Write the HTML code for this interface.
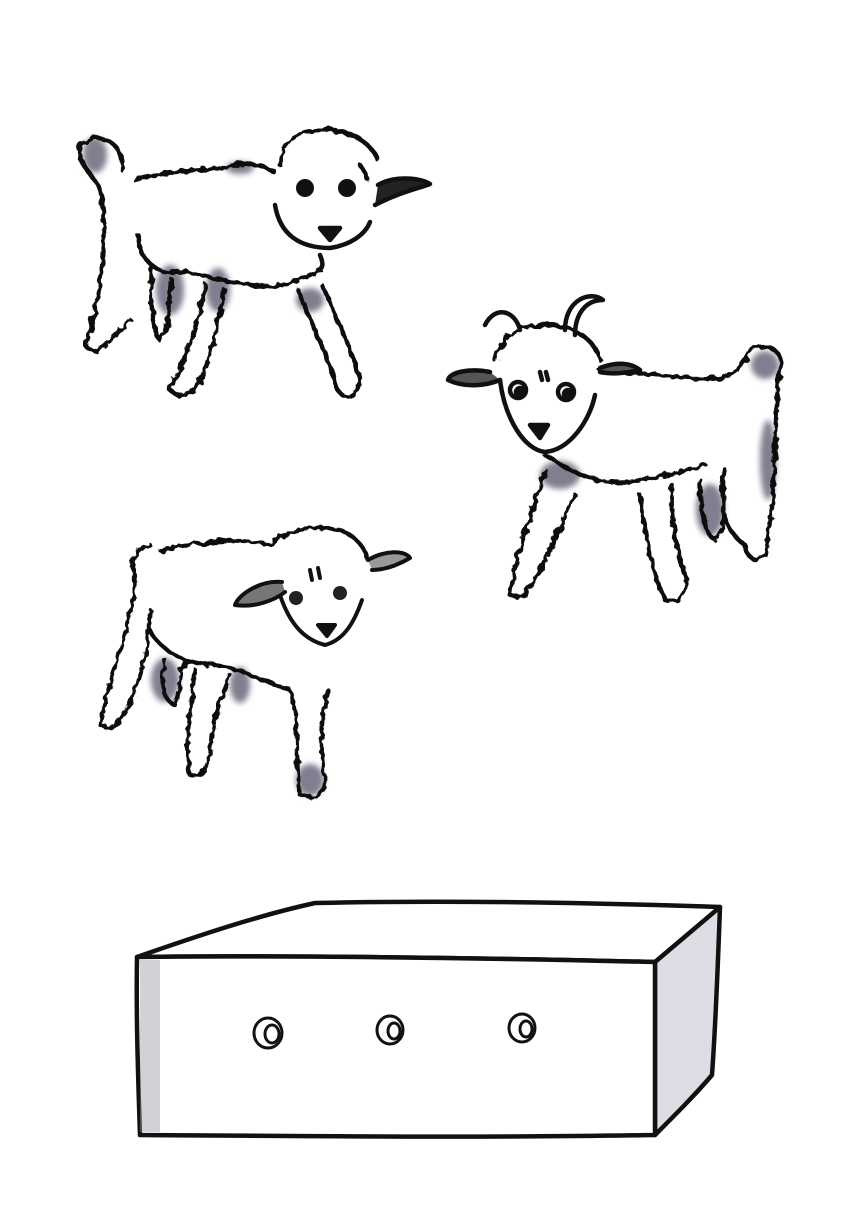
<!DOCTYPE html>
<html><head><meta charset="utf-8"><style>
html,body{margin:0;padding:0;background:#fff;}
svg{display:block}
</style></head><body>
<svg width="866" height="1220" viewBox="0 0 866 1220">
<defs>
<filter id="wool" x="-10%" y="-10%" width="120%" height="120%">
<feTurbulence type="fractalNoise" baseFrequency="0.12" numOctaves="2" seed="3"/>
<feDisplacementMap in="SourceGraphic" scale="7"/>
</filter>
<filter id="soft"><feGaussianBlur stdDeviation="3"/></filter>
</defs>
<rect width="866" height="1220" fill="#fff"/>

<!-- Lamb 1 -->
<g fill="none" stroke="#111" stroke-width="4.5" stroke-linecap="round" stroke-linejoin="round">
 <g fill="#55546a" opacity="0.75" stroke="none" filter="url(#soft)">
  <ellipse cx="170" cy="290" rx="14" ry="25"/><ellipse cx="218" cy="290" rx="12" ry="22"/><ellipse cx="310" cy="300" rx="14" ry="12"/><ellipse cx="95" cy="155" rx="12" ry="18"/><ellipse cx="240" cy="168" rx="14" ry="6"/>
 </g>
 <g filter="url(#wool)">
  <path d="M122 170 C125 140 95 130 82 145 C72 160 95 175 100 190 C110 240 100 300 85 345 C95 360 110 340 130 320"/>
  <path d="M135 180 C170 170 200 170 225 168 C245 160 262 165 275 172"/>
  <path d="M280 165 C280 140 300 128 330 130 C355 132 372 145 378 160"/>
  <path d="M138 235 C140 260 155 275 180 272 C200 272 230 285 260 285 C280 290 300 280 320 270"/>
  <path d="M152 265 C150 300 152 330 160 340 C170 335 168 300 172 280"/>
  <path d="M205 285 C200 320 185 360 170 390 C180 400 195 395 205 370 C215 340 220 310 225 290"/>
  <path d="M298 290 C310 320 325 350 338 390 C345 402 358 395 360 380 C350 345 335 315 322 285"/>
  <path d="M360 165 C362 168 365 172 368 180"/>
 </g>
 <path d="M275 205 C280 235 300 248 330 248 C350 245 365 235 370 222"/>
 <path d="M320 228 L340 228 L330 240 Z" fill="#111"/>
 <circle cx="305" cy="188" r="9" fill="#111" stroke="none"/>
 <circle cx="347" cy="188" r="9" fill="#111" stroke="none"/>
 <path d="M378 185 C395 175 420 178 430 184 C420 188 400 192 375 205" fill="#222"/>
 <path d="M318 270 C325 268 322 260 320 255"/>
</g>

<!-- Goat -->
<g fill="none" stroke="#111" stroke-width="4.5" stroke-linecap="round" stroke-linejoin="round">
 <g fill="#55546a" opacity="0.75" stroke="none" filter="url(#soft)">
  <ellipse cx="710" cy="510" rx="14" ry="26"/><ellipse cx="765" cy="365" rx="14" ry="14"/><ellipse cx="560" cy="475" rx="20" ry="14"/><ellipse cx="768" cy="460" rx="8" ry="40"/>
 </g>
 <g filter="url(#wool)">
  <path d="M495 360 C500 335 520 325 545 325 C575 325 595 340 600 360"/>
  <path d="M600 370 C640 372 680 380 720 378 C740 372 745 360 750 350 C765 340 785 350 780 370 C772 420 780 480 765 555 C755 565 745 555 745 545"/>
  <path d="M545 455 C570 470 600 490 640 480 C670 475 690 470 705 465"/>
  <path d="M545 470 C535 510 515 550 510 595 C525 605 535 580 545 560 C555 540 565 515 575 495"/>
  <path d="M640 495 C645 530 650 570 665 600 C680 605 690 590 685 575 C675 545 670 515 672 485"/>
  <path d="M725 470 C720 500 722 530 745 545"/>
  <path d="M700 480 C700 510 705 535 715 540 C725 535 725 505 722 478"/>
 </g>
 <path d="M485 325 C495 305 515 310 520 330"/>
 <path d="M565 330 C565 300 590 290 603 300 C585 300 575 315 575 335"/>
 <path d="M500 380 C505 420 525 450 545 452 C570 450 590 420 595 395"/>
 <path d="M530 425 L548 425 L540 438 Z" fill="#111"/>
 <circle cx="518" cy="390" r="8" fill="#fff"/><circle cx="520" cy="392" r="4" fill="#111"/>
 <circle cx="566" cy="392" r="8" fill="#fff"/><circle cx="568" cy="394" r="4" fill="#111"/>
 <path d="M490 372 C470 368 450 372 448 380 C465 388 485 386 500 380" fill="#555"/>
 <path d="M600 368 C615 362 630 362 640 370 C625 374 610 374 600 372" fill="#555"/>
 <path d="M540 372 L542 380 M546 372 L548 380"/>
</g>

<!-- Lamb 3 -->
<g fill="none" stroke="#111" stroke-width="4" stroke-linecap="round" stroke-linejoin="round">
 <g fill="#55546a" opacity="0.75" stroke="none" filter="url(#soft)">
  <ellipse cx="165" cy="680" rx="14" ry="22"/><ellipse cx="310" cy="780" rx="14" ry="16"/><ellipse cx="240" cy="685" rx="10" ry="18"/>
 </g>
 <g filter="url(#wool)">
  <path d="M150 545 C135 548 130 560 135 575 C135 620 110 670 100 725 C115 735 125 715 135 690 C145 660 150 635 150 610"/>
  <path d="M160 550 C190 545 230 535 270 545 C285 530 310 525 340 530 C355 535 365 548 368 560"/>
  <path d="M150 630 C160 650 185 665 215 665 C240 668 260 680 290 690"/>
  <path d="M165 660 C160 680 162 700 175 705 C180 690 180 670 185 662"/>
  <path d="M195 670 C190 710 185 750 190 775 C205 780 210 760 212 735 C215 710 225 690 230 675"/>
  <path d="M290 690 C300 720 295 760 300 795 C315 800 325 795 325 780 C320 750 320 720 328 690"/>
 </g>
 <path d="M280 595 C290 625 305 640 325 645 C345 640 355 620 362 600"/>
 <path d="M318 625 L335 625 L327 636 Z" fill="#111"/>
 <circle cx="296" cy="598" r="7" fill="#222" stroke="none"/>
 <circle cx="340" cy="593" r="7" fill="#222" stroke="none"/>
 <path d="M282 582 C260 580 238 595 235 605 C255 608 275 600 285 592" fill="#777"/>
 <path d="M368 560 C385 550 405 550 410 558 C398 565 385 570 372 570" fill="#999"/>
 <path d="M310 570 L312 580 M318 568 L320 578"/>
</g>

<!-- Box -->
<g stroke="#111" stroke-width="4.5" stroke-linejoin="round" stroke-linecap="round">
 <path d="M137 957 C200 935 260 915 315 903 C450 900 600 903 720 907 C700 925 680 945 655 962 C480 958 300 955 137 957 Z" fill="#fff"/>
 <path d="M655 962 L720 907 C718 960 716 1020 712 1075 C695 1095 675 1115 655 1135 Z" fill="#dedde6"/>
 <path d="M137 957 C300 955 480 958 655 962 L655 1135 C480 1138 300 1136 140 1135 C138 1075 136 1015 137 957 Z" fill="#fff"/>
 <rect x="140" y="960" width="20" height="172" fill="#9998a8" opacity="0.45" stroke="none"/>
 <g stroke-width="3">
  <ellipse cx="268" cy="1033" rx="14" ry="15" fill="#fff"/><ellipse cx="272" cy="1034" rx="7" ry="9" fill="#fff"/>
  <ellipse cx="390" cy="1030" rx="13" ry="14" fill="#fff"/><ellipse cx="394" cy="1031" rx="6" ry="8" fill="#fff"/>
  <ellipse cx="522" cy="1028" rx="13" ry="14" fill="#fff"/><ellipse cx="526" cy="1029" rx="6" ry="8" fill="#fff"/>
 </g>
</g>
</svg>
</body></html>
